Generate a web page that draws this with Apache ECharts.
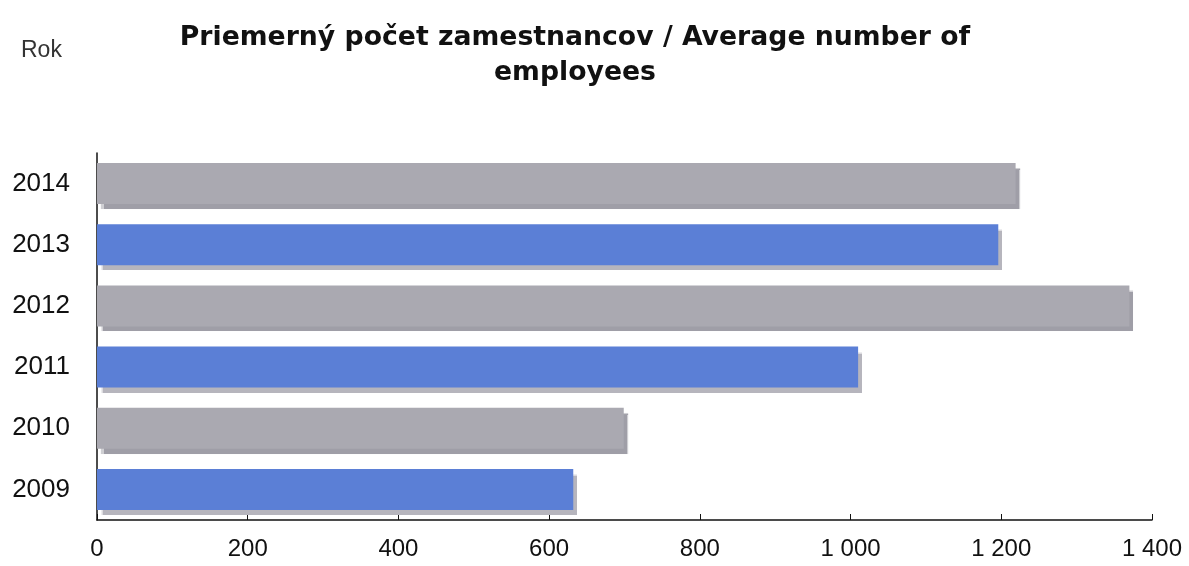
<!DOCTYPE html>
<html><head><meta charset="utf-8">
<script src="https://cdn.jsdelivr.net/npm/echarts@6/dist/echarts.min.js"></script>
<style>html,body{margin:0;padding:0;background:#fff}#c{width:1189px;height:566px}</style>
</head><body><div id="c"></div>
<script>
const years = ['2009','2010','2011','2012','2013','2014'];
const employees = [632, 699, 1010, 1370, 1196, 1219];
const barColors = ['#5b7fd6','#aaa9b1','#5b7fd6','#aaa9b1','#5b7fd6','#aaa9b1'];
const shadowColors = ['#b6b5bd','#9f9ea7','#b6b5bd','#9f9ea7','#b6b5bd','#9f9ea7'];

const chart = echarts.init(document.getElementById('c'));
chart.setOption({
  animation:false,
  backgroundColor:'#fff',
  title:{
    text:'Priemerný počet zamestnancov / Average number of\nemployees',
    left:570, top:16, textAlign:'center',
    textStyle:{fontFamily:'DejaVu Sans', fontWeight:'bold', fontSize:26.7, color:'#111', lineHeight:35}
  },
  graphic:[{type:'text', left:21, top:39, style:{text:'Rok', fontFamily:'Liberation Sans', fontSize:23, fill:'#333'}}],
  grid:{left:97, right:37, top:153, bottom:46, containLabel:false},
  xAxis:{
    type:'value', min:0, max:1400, interval:200,
    axisLine:{show:true, lineStyle:{color:'#111', width:1.5}},
    axisTick:{show:true, inside:true, length:6, lineStyle:{color:'#111'}},
    splitLine:{show:false},
    axisLabel:{margin:17, fontFamily:'Liberation Sans', fontSize:24, color:'#111',
      formatter:v=>String(v).replace(/\B(?=(\d{3})+(?!\d))/g,' ')}
  },
  yAxis:{
    type:'category', data:years,
    axisLine:{show:true, lineStyle:{color:'#111', width:1.5}},
    axisTick:{show:false},
    axisLabel:{margin:27, fontFamily:'Liberation Sans', fontSize:26, color:'#111'}
  },
  series:[{
    type:'bar', barWidth:41,
    data:employees.map((v,i)=>({value:v, itemStyle:{color:barColors[i], shadowColor:shadowColors[i]}})),
    itemStyle:{shadowOffsetY:5, shadowOffsetX:4, shadowBlur:1}
  }]
});
</script></body></html>
